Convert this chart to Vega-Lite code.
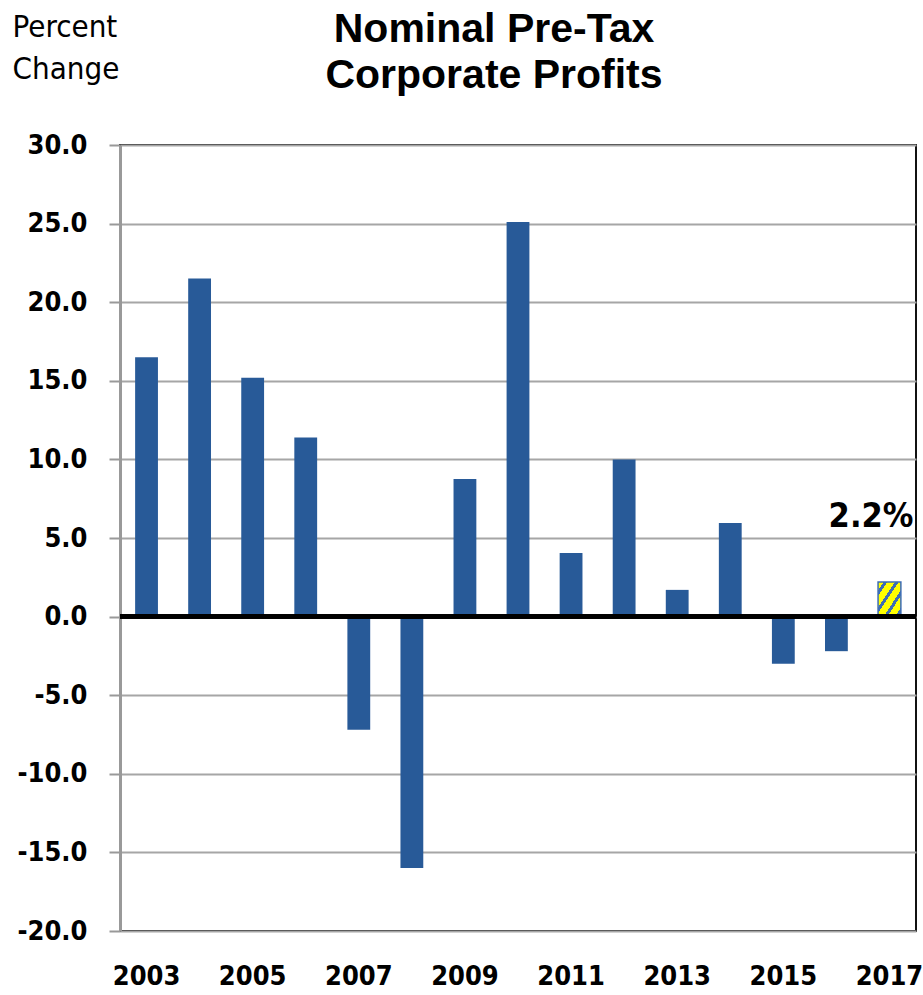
{
  "$schema": "https://vega.github.io/schema/vega-lite/v6.json",
  "width": 796,
  "height": 786,
  "autosize": "none",
  "padding": {"left": 120, "top": 145, "right": 7, "bottom": 64},
  "background": "white",
  "config": {
    "font": "DejaVu Sans Condensed, Liberation Sans, sans-serif",
    "view": {"stroke": "#111111", "strokeWidth": 2}
  },
  "title": {
    "text": ["Nominal Pre-Tax", "Corporate Profits"],
    "font": "Liberation Sans, Arial, sans-serif",
    "fontSize": 41,
    "fontWeight": "bold",
    "color": "black",
    "lineHeight": 46,
    "baseline": "top",
    "anchor": "middle",
    "frame": "group",
    "dx": -24,
    "offset": -86
  },
  "data": {
    "values": [
      {"year": "2003", "change": 16.5},
      {"year": "2004", "change": 21.5},
      {"year": "2005", "change": 15.2},
      {"year": "2006", "change": 11.4},
      {"year": "2007", "change": -7.2},
      {"year": "2008", "change": -16.0},
      {"year": "2009", "change": 8.75},
      {"year": "2010", "change": 25.1},
      {"year": "2011", "change": 4.05},
      {"year": "2012", "change": 10.0},
      {"year": "2013", "change": 1.7},
      {"year": "2014", "change": 5.95},
      {"year": "2015", "change": -3.0},
      {"year": "2016", "change": -2.2},
      {"year": "2017", "change": 2.2, "label": "2.2%"}
    ]
  },
  "encoding": {
    "x": {
      "field": "year",
      "type": "ordinal",
      "scale": {"paddingInner": 0.57, "paddingOuter": 0.285},
      "axis": {
        "title": null,
        "values": ["2003", "2005", "2007", "2009", "2011", "2013", "2015", "2017"],
        "labelAngle": 0,
        "labelFontSize": 27,
        "labelFontWeight": "bold",
        "labelColor": "black",
        "labelPadding": 32,
        "ticks": false,
        "domain": false,
        "grid": false
      }
    },
    "y": {
      "field": "change",
      "type": "quantitative",
      "scale": {"domain": [-20, 30], "nice": false, "zero": false},
      "axis": {
        "title": ["Percent", "Change"],
        "titleAngle": 0,
        "titleAlign": "left",
        "titleBaseline": "top",
        "titleX": -108,
        "titleY": -133,
        "titleFontSize": 31,
        "titleFontWeight": "normal",
        "titleColor": "black",
        "titleLineHeight": 42,
        "values": [-20, -15, -10, -5, 0, 5, 10, 15, 20, 25, 30],
        "labelExpr": "replace(format(datum.value, '.1f'), '\u2212', '-')",
        "labelFontSize": 27,
        "labelFontWeight": "bold",
        "labelColor": "black",
        "labelPadding": 22,
        "tickSize": 11,
        "tickColor": "#999999",
        "tickWidth": 2,
        "domainColor": "#999999",
        "domainWidth": 3,
        "grid": true,
        "gridColor": "#a6a6a6",
        "gridWidth": 2,
        "zindex": 0
      }
    }
  },
  "layer": [
    {
      "transform": [{"filter": "datum.year != '2017'"}],
      "mark": {"type": "bar", "color": "#285A98"}
    },
    {
      "transform": [{"filter": "datum.year == '2017'"}],
      "mark": {
        "type": "bar",
        "stroke": "#3D6DB5",
        "strokeWidth": 1.5,
        "fill": {
          "gradient": "linear",
          "x1": 0, "y1": 0, "x2": 1, "y2": 1,
          "stops": [
            {"offset": 0, "color": "#FFFF00"},
            {"offset": 0.12, "color": "#FFFF00"},
            {"offset": 0.12, "color": "#3D6DB5"},
            {"offset": 0.2, "color": "#3D6DB5"},
            {"offset": 0.2, "color": "#FFFF00"},
            {"offset": 0.37, "color": "#FFFF00"},
            {"offset": 0.37, "color": "#3D6DB5"},
            {"offset": 0.45, "color": "#3D6DB5"},
            {"offset": 0.45, "color": "#FFFF00"},
            {"offset": 0.62, "color": "#FFFF00"},
            {"offset": 0.62, "color": "#3D6DB5"},
            {"offset": 0.7, "color": "#3D6DB5"},
            {"offset": 0.7, "color": "#FFFF00"},
            {"offset": 0.87, "color": "#FFFF00"},
            {"offset": 0.87, "color": "#3D6DB5"},
            {"offset": 0.95, "color": "#3D6DB5"},
            {"offset": 0.95, "color": "#FFFF00"},
            {"offset": 1, "color": "#FFFF00"}
          ]
        }
      }
    },
    {
      "mark": {"type": "rule", "color": "black", "strokeWidth": 3.5},
      "encoding": {"y": {"datum": 0}, "x": {"value": 0}, "x2": {"value": 796}}
    },
    {
      "transform": [{"filter": "datum.year == '2017'"}],
      "mark": {
        "type": "text",
        "align": "right",
        "baseline": "alphabetic",
        "dx": 24,
        "dy": -55,
        "fontSize": 34,
        "fontWeight": "bold",
        "color": "black"
      },
      "encoding": {"text": {"field": "label"}}
    }
  ]
}
